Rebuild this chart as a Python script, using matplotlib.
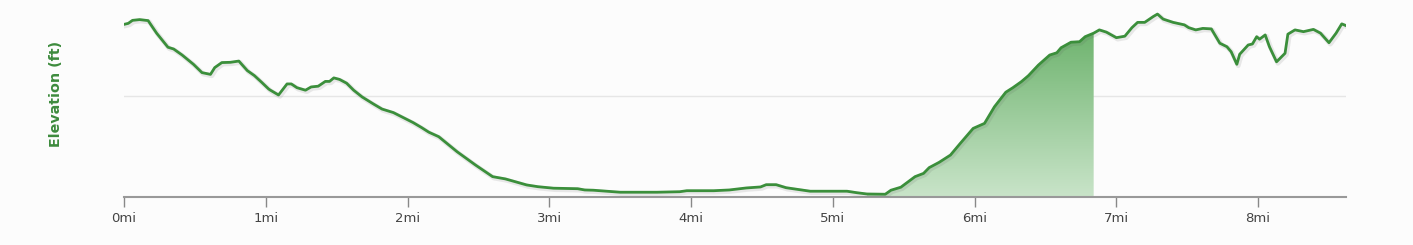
import numpy as np
import matplotlib
matplotlib.use("Agg")
import matplotlib.pyplot as plt
import matplotlib.patheffects as pe
from matplotlib.colors import LinearSegmentedColormap

# Elevation profile (distance in miles, elevation in ft)
miles = [0.00, 0.03, 0.06, 0.11, 0.17, 0.23, 0.31, 0.35, 0.41, 0.49, 0.55, 0.61, 0.64, 0.69,
         0.75, 0.81, 0.87, 0.92, 0.97, 1.02, 1.03, 1.09, 1.15, 1.18, 1.22, 1.28, 1.32, 1.37,
         1.42, 1.45, 1.48, 1.52, 1.57, 1.62, 1.68, 1.76, 1.82, 1.90, 1.97, 2.04, 2.10, 2.15,
         2.22, 2.35, 2.48, 2.60, 2.69, 2.84, 2.92, 3.03, 3.20, 3.25, 3.31, 3.50, 3.76, 3.92,
         3.97, 4.16, 4.27, 4.39, 4.49, 4.53, 4.60, 4.67, 4.84, 5.10, 5.17, 5.24, 5.37, 5.41,
         5.48, 5.58, 5.64, 5.68, 5.75, 5.83, 5.90, 5.99, 6.07, 6.14, 6.22, 6.27, 6.33, 6.38,
         6.45, 6.53, 6.58, 6.61, 6.68, 6.74, 6.78, 6.84, 6.88, 6.93, 7.00, 7.06, 7.11, 7.15,
         7.20, 7.26, 7.29, 7.33, 7.40, 7.48, 7.51, 7.56, 7.61, 7.67, 7.73, 7.78, 7.81, 7.85,
         7.87, 7.93, 7.96, 7.99, 8.01, 8.05, 8.08, 8.13, 8.19, 8.21, 8.26, 8.32, 8.39, 8.44,
         8.50, 8.55, 8.59, 8.62]
elevation = [1087, 1091, 1103, 1106, 1102, 1052, 996, 989, 965, 928, 895, 888, 915, 935,
             936, 941, 903, 883, 857, 830, 826, 806, 850, 850, 835, 825, 838, 841,
             860, 860, 874, 868, 853, 825, 798, 770, 750, 736, 716, 696, 676, 658,
             640, 580, 527, 481, 472, 448, 441, 435, 433, 428, 427, 419, 419, 421,
             425, 425, 428, 436, 440, 449, 449, 437, 423, 423, 417, 412, 411, 427,
             439, 481, 494, 517, 538, 567, 614, 673, 693, 759, 817, 835, 859, 883,
             925, 965, 974, 994, 1016, 1018, 1038, 1052, 1065, 1056, 1034, 1040, 1074, 1095,
             1095, 1118, 1128, 1108, 1095, 1085, 1074, 1065, 1071, 1069, 1012, 998, 978, 928,
             968, 1005, 1009, 1038, 1028, 1045, 998, 938, 972, 1048, 1065, 1058, 1067, 1052,
             1014, 1052, 1089, 1082]

# highlighted section
sel_start = 5.24
sel_end = 6.84

tick_miles = [0, 1, 2, 3, 4, 5, 6, 7, 8]
tick_labels = ["0mi", "1mi", "2mi", "3mi", "4mi", "5mi", "6mi", "7mi", "8mi"]

LINE = "#3b8f3b"
BG = "#fcfcfc"

fig = plt.figure(figsize=(14.13, 2.45), dpi=100, facecolor=BG)
ax = fig.add_axes([124 / 1413, 48 / 245, (1346 - 124) / 1413, 197 / 245])
ax.set_facecolor(BG)

x = np.array(miles)
y = np.array(elevation)
ymin, ymax = 400, 1184

# gradient fill for selected range
mask = (x >= sel_start) & (x <= sel_end)
xs, ys = x[mask], y[mask]
poly_x = np.concatenate([xs, [xs[-1], xs[0]]])
poly_y = np.concatenate([ys, [ymin, ymin]])
patch = ax.fill(poly_x, poly_y, facecolor="none", edgecolor="none")[0]
cmap = LinearSegmentedColormap.from_list("g", ["#c9e4c9", "#6fb46f"])
grad = np.linspace(0, 1, 256).reshape(-1, 1)
im = ax.imshow(grad, extent=[xs[0], xs[-1], ymin, ys.max()], origin="lower",
               cmap=cmap, aspect="auto", zorder=1)
im.set_clip_path(patch)

ax.axhline(800, color="#e6e6e6", lw=1, zorder=0)

ax.plot(x, y, color=LINE, lw=2.0, zorder=3, solid_joinstyle="round",
        path_effects=[pe.SimpleLineShadow(offset=(1, -1), shadow_color="#555555", alpha=0.12, linewidth=3.5),
                      pe.Normal()])

ax.set_xlim(0, 8.62)
ax.set_ylim(ymin, ymax)
ax.set_xticks(tick_miles)
ax.set_xticklabels(tick_labels, fontsize=9.5, color="#444444")
ax.tick_params(axis="x", length=7, width=1, color="#888888", pad=4)
ax.set_yticks([])
for s in ["top", "right", "left"]:
    ax.spines[s].set_visible(False)
ax.spines["bottom"].set_color("#999999")
ax.spines["bottom"].set_linewidth(1.5)

fig.text(56 / 1413, 1 - 94 / 245, "Elevation (ft)", rotation=90, ha="center", va="center",
         fontsize=10.3, fontweight="bold", color="#3d8b3d")

fig.savefig("out.png", dpi=100, facecolor=BG)
